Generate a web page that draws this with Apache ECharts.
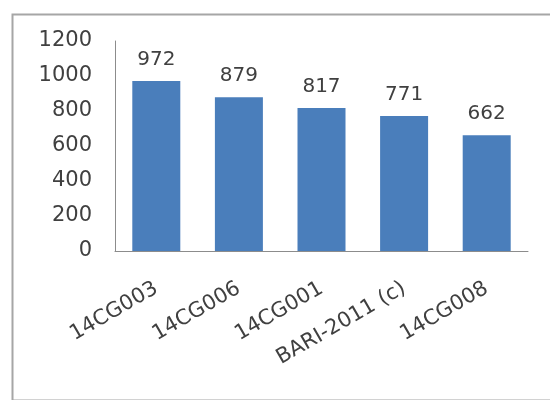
<!DOCTYPE html>
<html>
<head>
<meta charset="utf-8">
<script src="https://cdn.jsdelivr.net/npm/echarts@6/dist/echarts.min.js"></script>
<style>
  html, body { margin: 0; padding: 0; background: #fff; }
  #chart { width: 550px; height: 400px; }
</style>
</head>
<body>
<div id="chart"></div>
<script>
// Genotype names along the category axis
const categories = ['14CG003', '14CG006', '14CG001', 'BARI-2011 (c)', '14CG008'];
// Yield per genotype
const values = [972, 879, 817, 771, 662];
// Value axis range and step
const yMin = 0;
const yMax = 1200;
const yStep = 200;

const textColor = '#404040';
const fontFamily = 'DejaVu Sans';

const chart = echarts.init(document.getElementById('chart'), null, { renderer: 'canvas' });
chart.setOption({
  backgroundColor: '#ffffff',
  animation: false,
  graphic: [{
    type: 'rect',
    left: 10,
    top: 12,
    shape: { width: 620, height: 386 },
    style: { fill: 'none', stroke: '#a6a6a6', lineWidth: 2 },
    silent: true
  }],
  grid: { left: 115, right: 22, top: 41, bottom: 149 },
  xAxis: {
    type: 'category',
    data: categories,
    axisLine: { show: true, lineStyle: { color: '#8c8c8c', width: 1 } },
    axisTick: { show: false },
    axisLabel: {
      rotate: 30,
      margin: 36,
      color: textColor,
      fontFamily: fontFamily,
      fontSize: 21,
      interval: 0
    }
  },
  yAxis: {
    type: 'value',
    min: yMin,
    max: yMax,
    interval: yStep,
    splitLine: { show: false },
    axisLine: { show: true, lineStyle: { color: '#8c8c8c', width: 1 } },
    axisTick: { show: false },
    axisLabel: {
      margin: 23,
      color: textColor,
      fontFamily: fontFamily,
      fontSize: 21,
      formatter: function (v) { return String(v); }
    }
  },
  series: [{
    type: 'bar',
    data: values,
    barWidth: 48,
    itemStyle: { color: '#4a7ebb' },
    label: {
      show: true,
      position: 'top',
      distance: 11,
      color: textColor,
      fontFamily: fontFamily,
      fontSize: 20
    }
  }]
});
</script>
</body>
</html>
